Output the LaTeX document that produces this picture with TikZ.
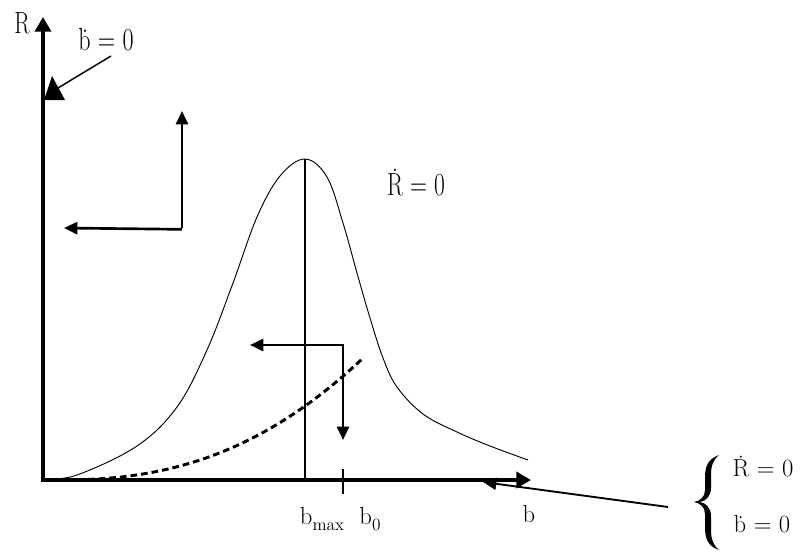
\documentclass[tikz,border=0pt]{standalone}
\usepackage{fontspec}
\usetikzlibrary{arrows.meta}
\newcommand{\subtxt}[1]{{\fontsize{13}{13}\selectfont\raisebox{-4.5pt}{#1}}}
\begin{document}
\begin{tikzpicture}[x=0.75pt,y=-0.75pt,
  axisline/.style={line width=3.6pt,-{Triangle[length=11pt,width=12pt]}},
  flowarrow/.style={line width=2pt,-{Triangle[length=10pt,width=9pt]}},
  curveline/.style={line width=0.7pt},
  dashcurve/.style={line width=2.2pt,dash pattern=on 5pt off 3pt},
  biglbl/.style={inner sep=0pt,anchor=base,font=\fontsize{20}{22}\selectfont},
  smalllbl/.style={inner sep=0pt,anchor=base,font=\fontsize{18.5}{21}\selectfont}]
\useasboundingbox (0,0) rectangle (803,553);
% coordinates
\coordinate (O) at (43,480);
\coordinate (Ytop) at (43,17);
\coordinate (Xend) at (531,480);
\coordinate (peak) at (305,159);
\coordinate (peakfoot) at (305,480);
\coordinate (tickT) at (343,469);
\coordinate (tickB) at (343,494);
\coordinate (c1) at (182,228);
\coordinate (c1up) at (182,111);
\coordinate (c1left) at (64,228);
\coordinate (c2) at (343,345);
\coordinate (c2left) at (250,345);
\coordinate (c2down) at (343,440);
\coordinate (triA) at (52,76);
\coordinate (triB) at (44,100);
\coordinate (triC) at (65,100);
\coordinate (leadS) at (111,56);
\coordinate (leadE) at (58,88);
\coordinate (braceS) at (668,507);
\coordinate (braceE) at (483,482);
% axes
\draw[axisline] (O) -- (Ytop);
\draw[axisline] ([xshift=-1.3pt]O) -- (Xend);
\draw[line width=2pt] (tickT) -- (tickB);
% triangle marker on R axis and leader
\fill (triA) -- (triB) -- (triC) -- cycle;
\draw[line width=1.1pt] (leadS) -- (leadE);
% bell curve
\draw[curveline] plot[smooth,tension=0.6] coordinates {(45,479) (77,475) (137,446) (177,407) (207,350) (233,283) (257,217) (280,176) (305,159) (327,177) (343,223) (357,273) (370,318) (383,358) (397,387) (423,414) (457,432) (490,446) (528,460)};
\draw[line width=1pt] (peak) -- (peakfoot);
% dashed curve
\draw[dashcurve] plot[domain=56:362,samples=50] (\x,{480-121*((\x-55)/307)^2.4});
% flow arrows
\draw[flowarrow] (c1) -- (c1up);
\draw[flowarrow] ([yshift=-1pt]c1) -- (c1left);
\draw[flowarrow] ([xshift=0.7pt]c2) -- (c2left);
\draw[flowarrow] ([yshift=-0.7pt]c2) -- (c2down);
\draw[line width=1.4pt,-{Triangle[length=10pt,width=9pt]}] (braceS) -- (braceE);
% labels
\node[biglbl] (lR) at (22,33) {\scalebox{0.85}[1.15]{R}};
\node[biglbl] (lb0) at (106,50) {\scalebox{0.9}[1.2]{\.b = 0}};
\node[biglbl] (lR0) at (416,195) {\scalebox{0.88}[1.2]{\.R = 0}};
\node[smalllbl] (lbmax) at (322,524) {b\subtxt{max}};
\node[smalllbl] (lbzero) at (370,524) {b\subtxt{0}};
\node[smalllbl] (lbx) at (529,522) {b};
% brace
\fill (719,455) .. controls (708,459) and (705,466) .. (705,478)
  -- (705,490) .. controls (705,497) and (700,501) .. (694,502)
  .. controls (700,503) and (705,507) .. (705,514)
  -- (705,527) .. controls (705,539) and (708,546) .. (719,550)
  .. controls (713,545) and (711,539) .. (711,530)
  -- (711,516) .. controls (711,508) and (706,503) .. (700,502)
  .. controls (706,501) and (711,496) .. (711,488)
  -- (711,475) .. controls (711,466) and (713,460) .. (719,455) -- cycle;
\node[smalllbl] (bR) at (763,476) {\.R = 0};
\node[smalllbl] (bb) at (762,532) {\.b = 0};
\end{tikzpicture}
\end{document}
